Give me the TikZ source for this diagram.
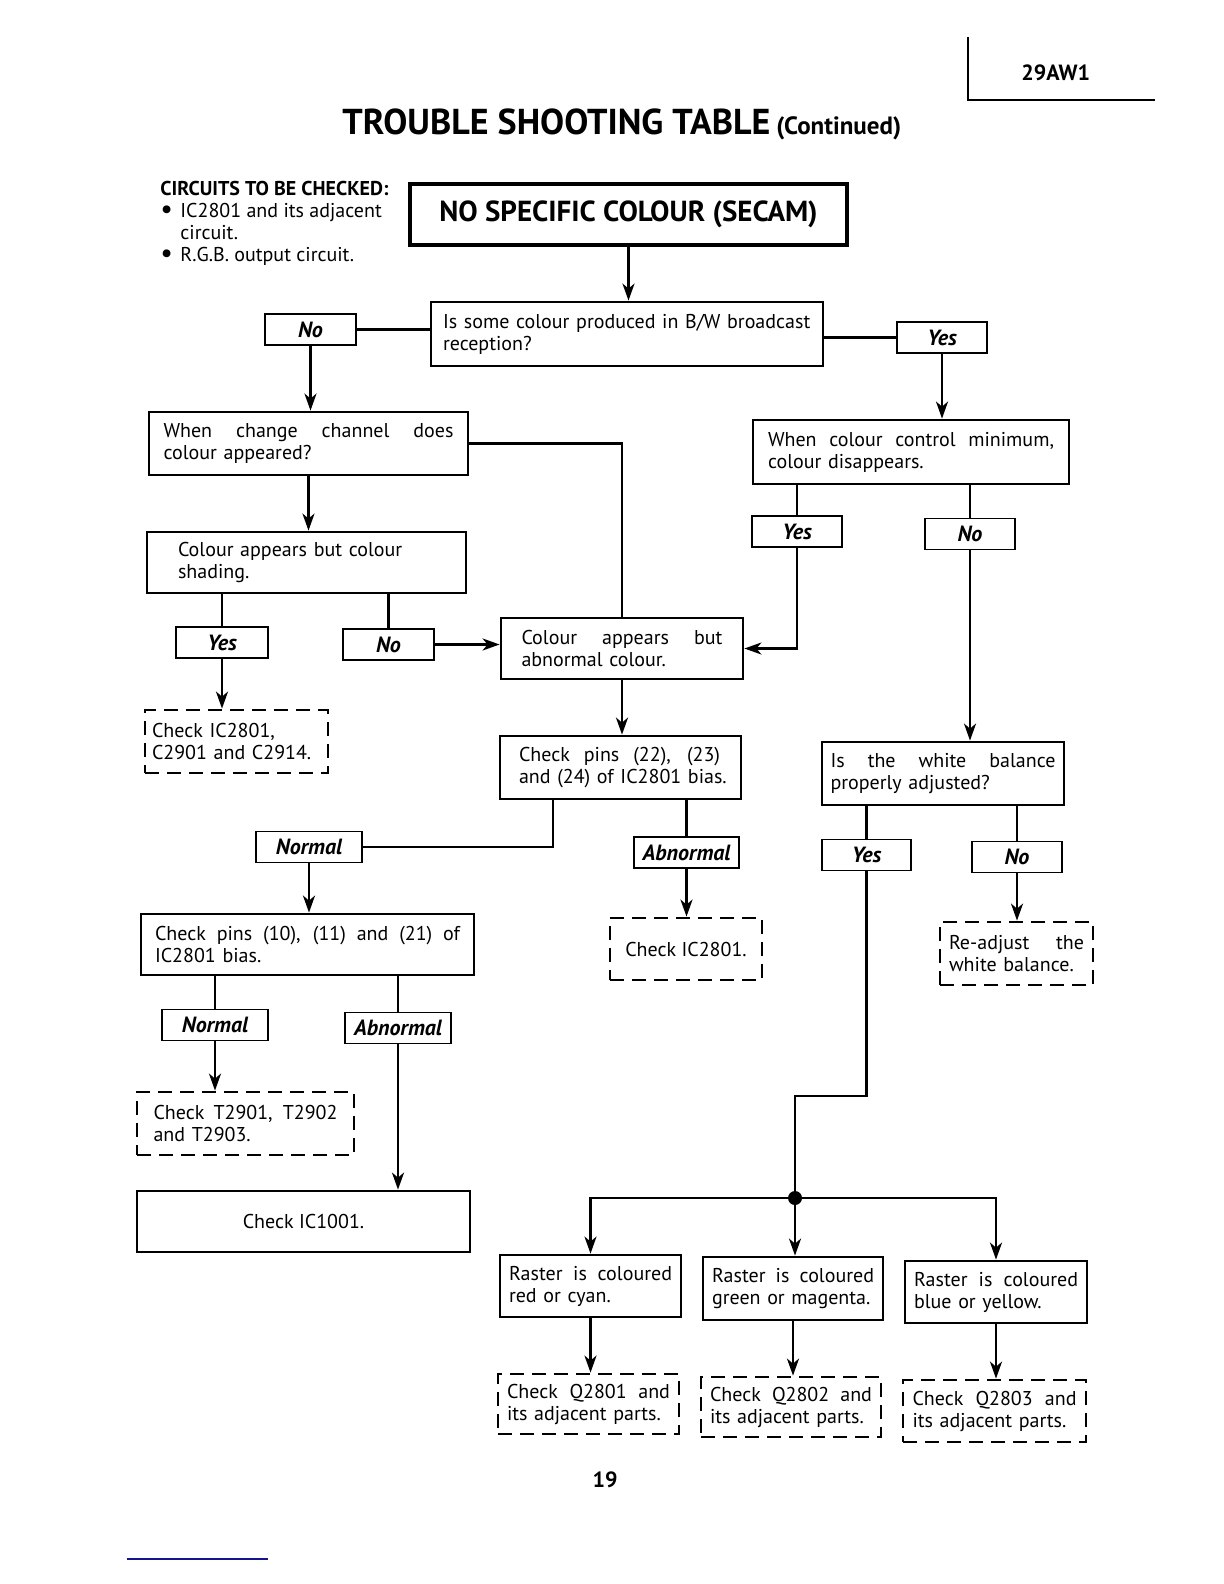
\documentclass[tikz,border=0pt]{standalone}
\usepackage{fontspec}
\setmainfont{PT Sans}
\usetikzlibrary{arrows.meta}
\pgfdeclarelayer{edgelayer}
\pgfdeclarelayer{nodelayer}
\pgfsetlayers{edgelayer,nodelayer,main}
\newcommand{\spreadline}[2]{{\spaceskip=0pt\xspaceskip=0pt\makebox[#1][s]{#2}}}
\newcommand{\dotmark}{\makebox[10pt][l]{\raisebox{-0.6pt}{\fontsize{14}{11}\selectfont\textbullet}}}
\tikzstyle{none}=[inner sep=0pt]
\tikzstyle{heading_box}=[draw=black, line width=2pt, rectangle, inner sep=2pt, font=\fontsize{14.5}{16}\selectfont\bfseries]
\tikzstyle{stage_box}=[draw=black, line width=1.4pt, rectangle, inner sep=2pt, align=left, font=\fontsize{10}{11}\selectfont]
\tikzstyle{check_box}=[stage_box, dash pattern=on 7pt off 4pt]
\tikzstyle{answer}=[draw=black, line width=0.9pt, rectangle, inner sep=0pt, minimum height=15.5pt, font=\fontsize{11}{12}\selectfont\bfseries\itshape]
\tikzstyle{joint}=[circle, fill=black, minimum size=7pt, inner sep=0pt]
\tikzstyle{link}=[line width=1.2pt]
\tikzstyle{flow}=[-{Stealth[length=8.5pt,width=6pt,inset=2.5pt]}, line width=1.2pt]
\begin{document}
\begin{tikzpicture}[x=0.5pt,y=0.5pt]
	\useasboundingbox (0,0) rectangle (1224,-1584);
	\begin{pgfonlayer}{nodelayer}
		\node [style=heading_box, minimum width=218.5pt, minimum height=30.5pt] (0) at (628.5, -214.5) {NO SPECIFIC COLOUR (SECAM)};
		\node [style=stage_box, minimum width=196pt, minimum height=32pt, text width=184pt] (1) at (627, -334) {\mbox{Is some colour produced in B/W broadcast}\\reception?};
		\node [style=answer, minimum width=45.5pt] (2) at (310.5, -329.5) {No};
		\node [style=answer, minimum width=45pt] (3) at (942, -337.5) {Yes};
		\node [style=stage_box, minimum width=159.5pt, minimum height=31.5pt, text width=145pt] (4) at (308.5, -443.5) {\spreadline{145pt}{When change channel does}\\colour appeared?};
		\node [style=stage_box, minimum width=158pt, minimum height=32pt, text width=143pt] (5) at (911, -452) {\spreadline{143pt}{When colour control minimum,}\\colour disappears.};
		\node [style=stage_box, minimum width=159.5pt, minimum height=30.5pt, text width=128.5pt] (6) at (306.5, -562.5) {Colour appears but colour\\shading.};
		\node [style=answer, minimum width=46pt] (7) at (222, -642.5) {Yes};
		\node [style=answer, minimum width=45.5pt] (8) at (388.5, -644.5) {No};
		\node [style=answer, minimum width=45pt] (9) at (797, -531.5) {Yes};
		\node [style=answer, minimum width=45pt] (10) at (970, -534) {No};
		\node [style=check_box, minimum width=91.5pt, minimum height=31.5pt, text width=84.5pt] (11) at (236.5, -741.5) {Check IC2801,\\C2901 and C2914.};
		\node [style=stage_box, minimum width=121pt, minimum height=30.5pt, text width=100.5pt] (12) at (622, -648.5) {\spreadline{100.5pt}{Colour appears but}\\abnormal colour.};
		\node [style=stage_box, minimum width=120.5pt, minimum height=31.5pt, text width=101.5pt] (13) at (620.5, -767.5) {\spreadline{100.5pt}{Check pins (22), (23)}\\\mbox{and (24) of IC2801 bias.}};
		\node [style=stage_box, minimum width=121pt, minimum height=31.5pt, text width=112.5pt] (14) at (943, -773.5) {\spreadline{112.5pt}{Is the white balance}\\properly adjusted?};
		\node [style=answer, minimum width=53pt] (15) at (309, -847) {Normal};
		\node [style=answer, minimum width=52.5pt] (16) at (686.5, -852.5) {Abnormal};
		\node [style=check_box, minimum width=76pt, minimum height=31pt] (17) at (686, -949) {Check IC2801.};
		\node [style=answer, minimum width=44.5pt] (18) at (866.5, -855) {Yes};
		\node [style=answer, minimum width=45pt] (19) at (1017, -857) {No};
		\node [style=check_box, minimum width=76.5pt, minimum height=31.5pt, text width=67.5pt] (20) at (1016.5, -953.5) {\spreadline{67.5pt}{Re-adjust the}\\white balance.};
		\node [style=stage_box, minimum width=166.5pt, minimum height=30.5pt, text width=152.5pt] (21) at (307.5, -944.5) {\spreadline{152.5pt}{Check pins (10), (11) and (21) of}\\IC2801 bias.};
		\node [style=answer, minimum width=53pt] (22) at (215, -1025) {Normal};
		\node [style=answer, minimum width=53pt] (23) at (398, -1028) {Abnormal};
		\node [style=check_box, minimum width=108.5pt, minimum height=31.5pt, text width=92pt] (24) at (245.5, -1123.5) {\spreadline{92pt}{Check T2901, T2902}\\and T2903.};
		\node [style=stage_box, minimum width=166.5pt, minimum height=30.5pt] (25) at (303.5, -1221.5) {Check IC1001.};
		\node [style=joint] (26) at (795, -1198) {};
		\node [style=stage_box, minimum width=90.5pt, minimum height=31pt, text width=81.5pt] (27) at (590.5, -1286) {\spreadline{81.5pt}{Raster is coloured}\\red or cyan.};
		\node [style=stage_box, minimum width=90pt, minimum height=31.5pt, text width=81pt] (28) at (793, -1288.5) {\spreadline{81pt}{Raster is coloured}\\green or magenta.};
		\node [style=stage_box, minimum width=91pt, minimum height=31pt, text width=82pt] (29) at (996, -1292) {\spreadline{82pt}{Raster is coloured}\\blue or yellow.};
		\node [style=check_box, minimum width=90.5pt, minimum height=30pt, text width=81.5pt] (30) at (588.5, -1404) {\spreadline{81.5pt}{Check Q2801 and}\\its adjacent parts.};
		\node [style=check_box, minimum width=90pt, minimum height=30pt, text width=81pt] (31) at (791, -1407) {\spreadline{81pt}{Check Q2802 and}\\its adjacent parts.};
		\node [style=check_box, minimum width=91.5pt, minimum height=31pt, text width=82pt] (32) at (994.5, -1411) {\spreadline{82pt}{Check Q2803 and}\\its adjacent parts.};
		\coordinate (33) at (553, -799);
		\coordinate (34) at (795, -1096);
		\coordinate (35) at (968, -37);
		\coordinate (36) at (1155, -100);
		\node [style=none, anchor=base west] (37) at (342, -134) {{\fontsize{18}{20}\selectfont\bfseries TROUBLE SHOOTING TABLE}\hspace{3pt}{\fontsize{12.5}{14}\selectfont\bfseries (Continued)}};
		\node [style=none, anchor=base west, font=\fontsize{11}{12}\selectfont\bfseries] (38) at (1021, -81) {29AW1};
		\node [style=none, anchor=north west, align=left, font=\fontsize{10}{11}\selectfont] (39) at (160, -181) {\textbf{CIRCUITS TO BE CHECKED:}\\\dotmark IC2801 and its adjacent\\\hspace*{10pt}circuit.\\\dotmark R.G.B. output circuit.};
		\node [style=none, font=\fontsize{11}{12}\selectfont\bfseries] (40) at (605, -1480) {19};
	\end{pgfonlayer}
	\begin{pgfonlayer}{edgelayer}
		\draw [style=flow] (0.south) -- (0.south |- 1.north);
		\draw [style=link] (2.east) -- (2.east -| 1.west);
		\draw [style=flow] (2.south) -- (2.south |- 4.north);
		\draw [style=link] (1.east |- 3.west) -- (3.west);
		\draw [style=flow] (3.south) -- (3.south |- 5.north);
		\draw [style=link] (4.east) -| (12.north);
		\draw [style=flow] (4.south) -- (4.south |- 6.north);
		\draw [style=link] (6.south -| 7.north) -- (7.north);
		\draw [style=link] (6.south -| 8.north) -- (8.north);
		\draw [style=flow] (7.south) -- (7.south |- 11.north);
		\draw [style=flow] (8.east) -- (8.east -| 12.west);
		\draw [style=link] (5.south -| 9.north) -- (9.north);
		\draw [style=link] (5.south -| 10.north) -- (10.north);
		\draw [style=flow] (9.south) |- (12.east);
		\draw [style=flow] (10.south) -- (10.south |- 14.north);
		\draw [style=flow] (12.south) -- (12.south |- 13.north);
		\draw [style=link] (13.south -| 33) |- (15.east);
		\draw [style=link] (13.south -| 16.north) -- (16.north);
		\draw [style=flow] (15.south) -- (15.south |- 21.north);
		\draw [style=flow] (16.south) -- (16.south |- 17.north);
		\draw [style=link] (14.south -| 18.north) -- (18.north);
		\draw [style=link] (14.south -| 19.north) -- (19.north);
		\draw [style=flow] (19.south) -- (19.south |- 20.north);
		\draw [style=link] (18.south) |- (34) -- (26);
		\draw [style=link] (21.south -| 22.north) -- (22.north);
		\draw [style=link] (21.south -| 23.north) -- (23.north);
		\draw [style=flow] (22.south) -- (22.south |- 24.north);
		\draw [style=flow] (23.south) -- (23.south |- 25.north);
		\draw [style=flow] (26.center) -| (27.north);
		\draw [style=flow] (26.center) -| (29.north);
		\draw [style=flow] (26.center) -- (26.center |- 28.north);
		\draw [style=flow] (27.south) -- (27.south |- 30.north);
		\draw [style=flow] (28.south) -- (28.south |- 31.north);
		\draw [style=flow] (29.south) -- (29.south |- 32.north);
		\draw [line width=0.9pt] (35) |- (36);
		\draw [line width=0.8pt, draw={rgb,255:red,20;green,20;blue,140}] (127, -1559) -- (268, -1559);
	\end{pgfonlayer}
\end{tikzpicture}
\end{document}
